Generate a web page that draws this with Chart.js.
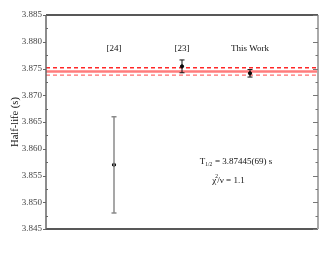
<!DOCTYPE html>
<html lang="en">
<head>
<meta charset="UTF-8">
<title>Half-life comparison</title>
<script src="https://cdn.jsdelivr.net/npm/chart.js"></script>
<style>
  html, body { margin: 0; padding: 0; background: #fff; }
</style>
</head>
<body>
<canvas id="halfLifeChart" width="330" height="255"></canvas>
<script>
// measurements (label, x slot, value, uncertainty)
const labels = ['[24]', '[23]', 'This Work'];
const xSlots = [1, 2, 3];
const halfLife = [3.857, 3.8754, 3.8741];
const halfLifeErr = [0.009, 0.0012, 0.0007];
const errColors = ['#8a8a8a', '#111', '#111'];

// weighted average band
const meanValue = 3.87445;
const meanErr = 0.00069;

// axis range
const yMin = 3.845, yMax = 3.885, yStep = 0.005;
const xMin = 0, xMax = 4;
const labelLevel = 3.8788;

const serif = "'Liberation Serif', 'DejaVu Serif', serif";

function bandLine(v) {
    return [{ x: xMin, y: v }, { x: xMax, y: v }];
}

const framePlugin = {
    id: 'frame',
    afterDatasetsDraw(chart) {
        const ctx = chart.ctx;
        const xs = chart.scales.x, ys = chart.scales.y;
        const a = chart.chartArea;

        // error bars
        halfLife.forEach((v, i) => {
            const px = xs.getPixelForValue(xSlots[i]);
            const top = ys.getPixelForValue(v + halfLifeErr[i]);
            const bot = ys.getPixelForValue(v - halfLifeErr[i]);
            ctx.save();
            ctx.strokeStyle = errColors[i];
            ctx.lineWidth = i === 0 ? 1.5 : 1;
            ctx.beginPath();
            ctx.moveTo(px, top); ctx.lineTo(px, bot);
            ctx.moveTo(px - 2.5, top); ctx.lineTo(px + 2.5, top);
            ctx.moveTo(px - 2.5, bot); ctx.lineTo(px + 2.5, bot);
            ctx.stroke();
            ctx.restore();
        });

        // frame
        ctx.save();
        ctx.lineWidth = 1.5;
        ctx.strokeStyle = '#222';
        ctx.beginPath();
        ctx.moveTo(a.left, a.top); ctx.lineTo(a.right, a.top);
        ctx.moveTo(a.left, a.bottom); ctx.lineTo(a.right, a.bottom);
        ctx.stroke();
        ctx.strokeStyle = '#666';
        ctx.beginPath();
        ctx.moveTo(a.left, a.top); ctx.lineTo(a.left, a.bottom);
        ctx.stroke();
        ctx.strokeStyle = '#aaa';
        ctx.lineWidth = 2;
        ctx.beginPath();
        ctx.moveTo(a.right, a.top); ctx.lineTo(a.right, a.bottom);
        ctx.stroke();

        // major ticks point out on the left, minor ones in; right side all in
        ctx.lineWidth = 1;
        for (let v = yMin; v <= yMax + 1e-9; v += yStep / 2) {
            const major = Math.abs(Math.round(v / yStep) * yStep - v) < 1e-7;
            const py = Math.round(ys.getPixelForValue(v)) + 0.5;
            ctx.strokeStyle = '#666';
            ctx.beginPath();
            if (major) { ctx.moveTo(a.left - 3, py); ctx.lineTo(a.left, py); }
            else { ctx.moveTo(a.left, py); ctx.lineTo(a.left + 2, py); }
            ctx.stroke();
            ctx.strokeStyle = '#777';
            ctx.beginPath();
            ctx.moveTo(a.right - (major ? 5 : 2.5), py); ctx.lineTo(a.right, py);
            ctx.stroke();
        }
        ctx.restore();

        // labels above the points
        ctx.save();
        ctx.fillStyle = '#111';
        ctx.font = '9px ' + serif;
        ctx.textAlign = 'center';
        ctx.textBaseline = 'middle';
        labels.forEach((t, i) => {
            ctx.fillText(t, xs.getPixelForValue(xSlots[i]), ys.getPixelForValue(labelLevel));
        });

        // result annotation
        const ax = xs.getPixelForValue(2.26);
        const ay = ys.getPixelForValue(3.8575);
        ctx.textAlign = 'left';
        ctx.font = '9px ' + serif;
        ctx.fillText('T', ax, ay);
        let w = ctx.measureText('T').width;
        ctx.font = '5.5px ' + serif;
        ctx.fillText('1/2', ax + w, ay + 2.5);
        w += ctx.measureText('1/2').width + 0.5;
        ctx.font = '9px ' + serif;
        ctx.fillText(' = ' + meanValue.toFixed(5) + '(' + Math.round(meanErr * 1e5) + ') s', ax + w, ay);

        const bx = xs.getPixelForValue(2.445);
        const by = ys.getPixelForValue(3.8541);
        ctx.fillText('\u03c7', bx, by);
        let w2 = ctx.measureText('\u03c7').width;
        ctx.font = '5.5px ' + serif;
        ctx.fillText('2', bx + w2 - 1, by - 3.5);
        ctx.font = '9px ' + serif;
        ctx.fillText('/\u03bd = 1.1', bx + w2 + 1, by);
        ctx.restore();
    }
};

new Chart(document.getElementById('halfLifeChart'), {
    type: 'scatter',
    data: {
        datasets: [
            {
                type: 'line',
                data: bandLine(meanValue),
                borderColor: 'rgba(255, 80, 80, 0.75)',
                borderWidth: 2.5,
                pointRadius: 0,
                order: 3
            },
            {
                type: 'line',
                data: bandLine(meanValue + meanErr),
                borderColor: 'rgb(255, 40, 40)',
                backgroundColor: 'rgb(255, 40, 40)',
                borderWidth: 1.5,
                borderDash: [4, 3],
                pointRadius: 0,
                order: 3
            },
            {
                type: 'line',
                data: bandLine(meanValue - meanErr),
                borderColor: 'rgb(255, 110, 110)',
                backgroundColor: 'rgb(255, 110, 110)',
                borderWidth: 1.3,
                borderDash: [4, 3],
                pointRadius: 0,
                order: 3
            },
            {
                data: halfLife.map((v, i) => ({ x: xSlots[i], y: v })),
                backgroundColor: '#000',
                borderColor: '#000',
                pointRadius: 1.6,
                order: 1
            }
        ]
    },
    options: {
        responsive: false,
        animation: false,
        layout: { padding: { left: 0, top: 15, right: 12, bottom: 26 } },
        plugins: { legend: { display: false }, tooltip: { enabled: false } },
        scales: {
            x: {
                type: 'linear',
                min: xMin,
                max: xMax,
                display: false
            },
            y: {
                min: yMin,
                max: yMax,
                grid: { display: false, drawTicks: false },
                border: { display: false },
                ticks: {
                    stepSize: yStep,
                    padding: 4,
                    color: '#444',
                    font: { family: serif, size: 9 },
                    callback: v => v.toFixed(3)
                },
                title: {
                    display: true,
                    text: 'Half-life (s)',
                    color: '#111',
                    font: { family: serif, size: 10.5 },
                    padding: { top: 9, bottom: 0 }
                },
                afterFit: s => { s.width = 46; }
            }
        }
    },
    plugins: [framePlugin]
});
</script>
</body>
</html>
